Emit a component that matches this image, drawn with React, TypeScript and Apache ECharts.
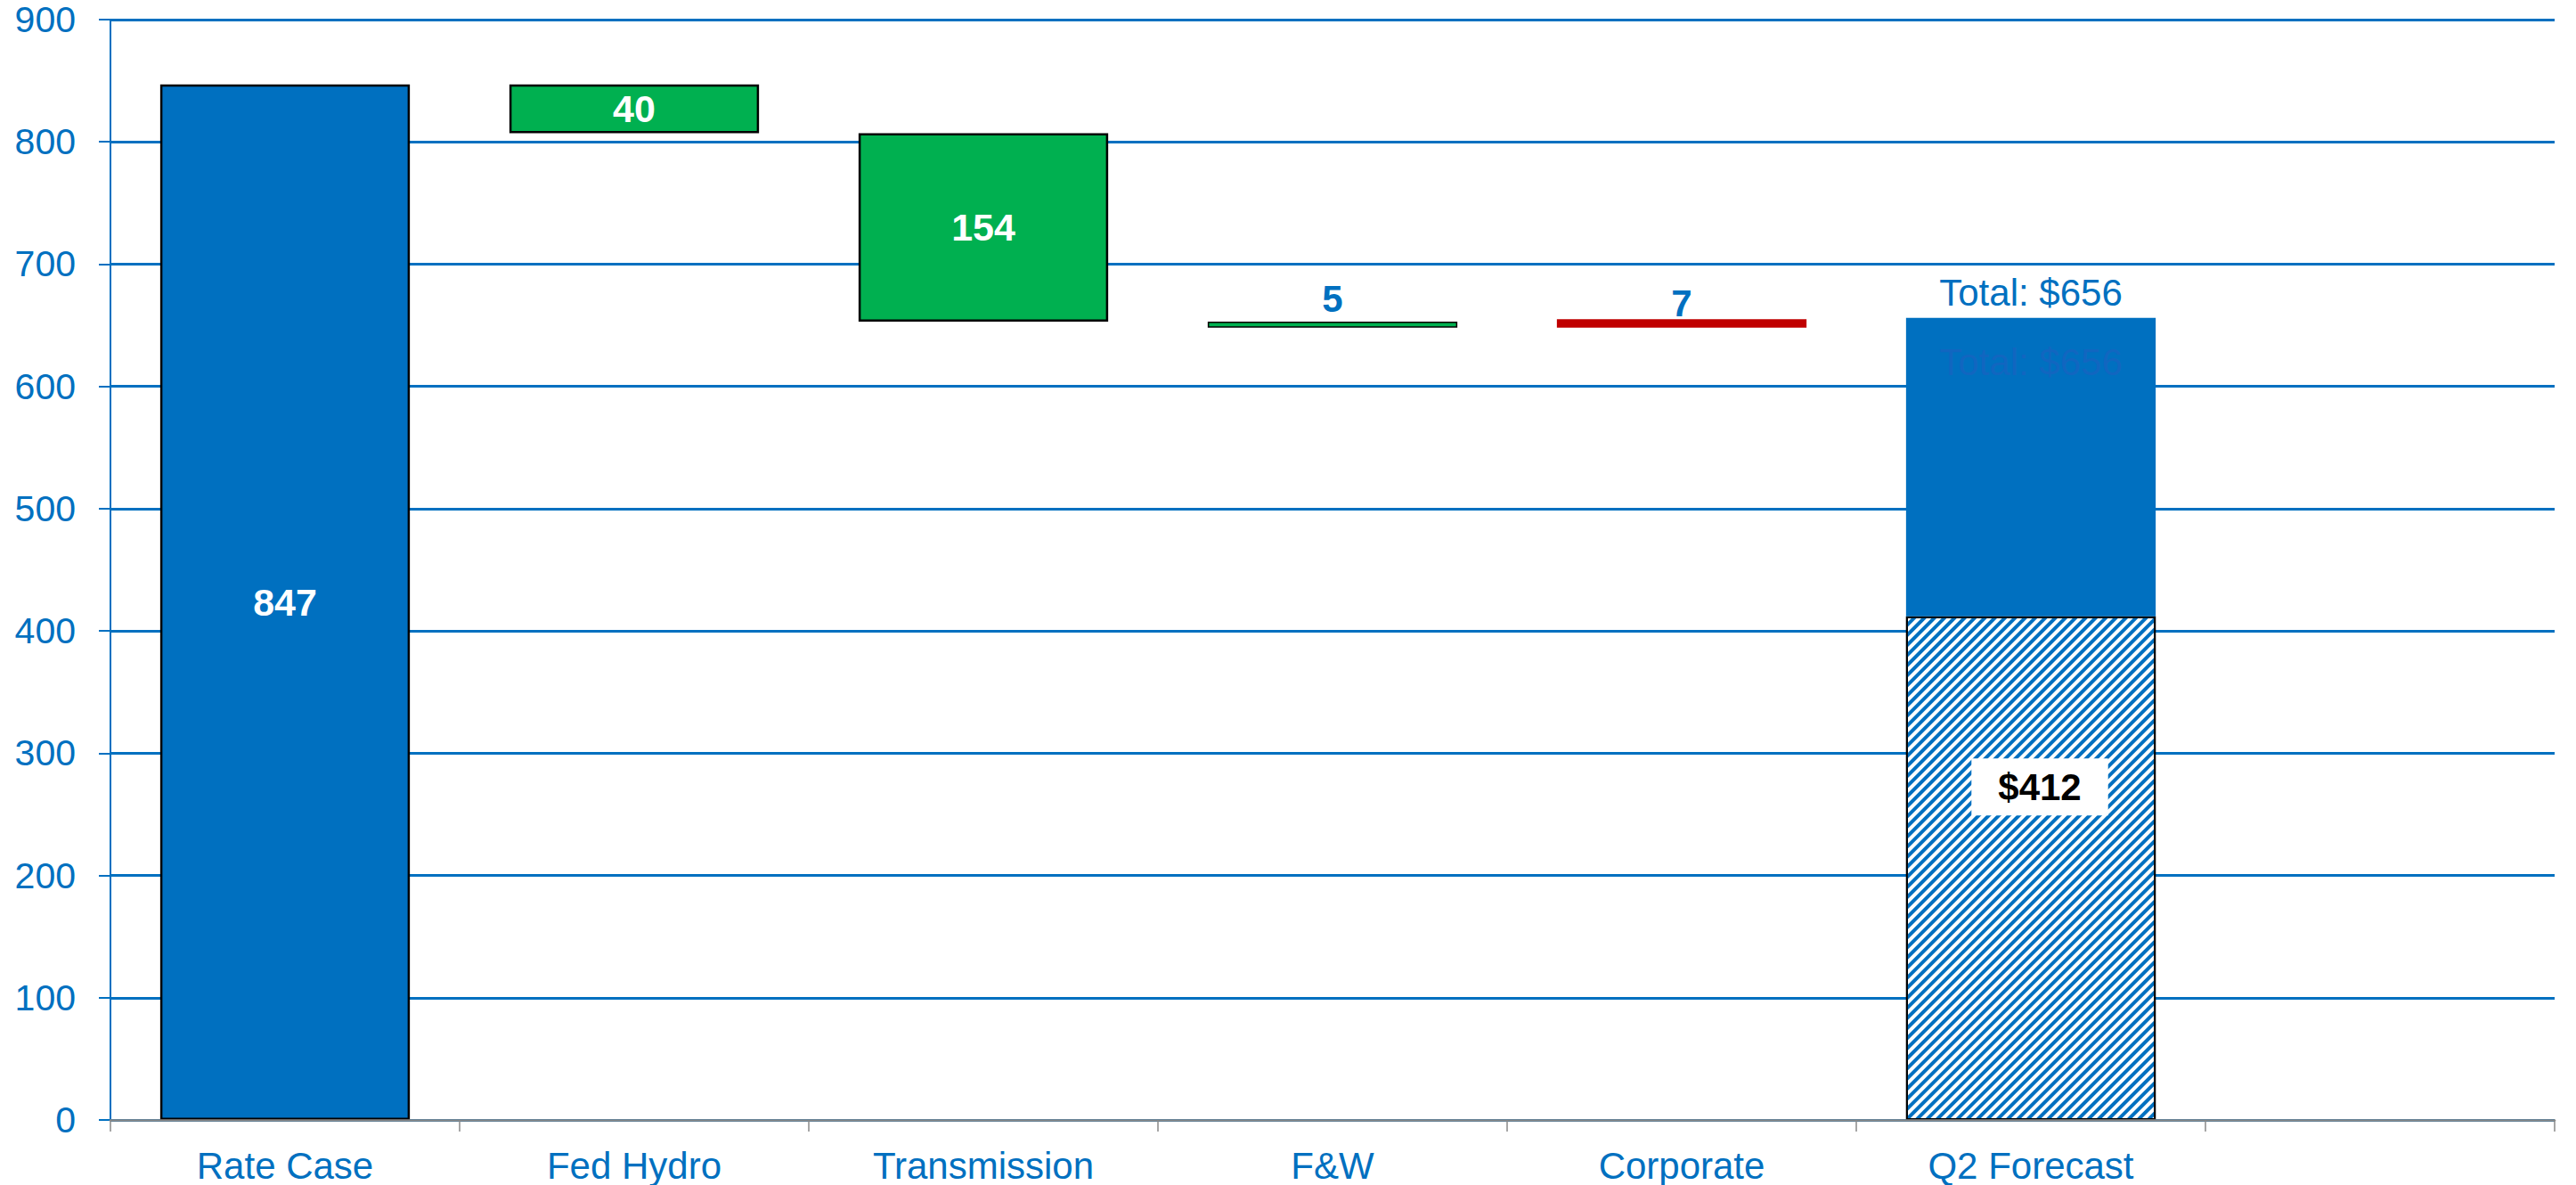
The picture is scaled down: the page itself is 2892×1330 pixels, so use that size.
import React, { useEffect, useRef } from "react";
import * as echarts from "echarts";

const categories = ["Rate Case", "Fed Hydro", "Transmission", "F&W", "Corporate", "Q2 Forecast", ""];
// invisible offsets that lift each floating bar
const baseValues: (number | string)[] = [0, 807, 653, 648, 648, "-", "-"];
// visible bar heights
const deltaValues: (number | string)[] = [847, 40, 154, 5, 7, 244, "-"];
const deltaLabels = ["847", "40", "154", "5", "7", "Total: $656", ""];
const barColors = ["#0070C0", "#00B050", "#00B050", "#00B050", "#C00000", "#0070C0", "#0070C0"];
const borderWidths = [2.5, 2.5, 2.5, 1.5, 0, 0, 0];
const labelInside = [true, true, true, false, false, false, false];
// hatched forecast portion
const hatchedValues: (number | string)[] = ["-", "-", "-", "-", "-", 412, "-"];
const hatchedLabel = "$412";
const totalValue = 656;
const totalText = "Total: $656";
const yTicks = { min: 0, max: 900, interval: 100 };

const FONT = "'Liberation Sans', Arial, Helvetica, sans-serif";
const BLUE = "#0070C0";

export default function App() {
  const ref = useRef<HTMLDivElement>(null);
  useEffect(() => {
    if (!ref.current) return;
    const chart = echarts.init(ref.current, undefined, { renderer: "svg" });
    const topDistance = [5, 5, 5, 4, -3, 7, 5];
    const option: any = {
      animation: false,
      backgroundColor: "#fff",
      textStyle: { fontFamily: FONT },
      grid: { left: 124, right: 24, top: 22, bottom: 73, containLabel: false },
      xAxis: {
        type: "category",
        data: categories,
        boundaryGap: true,
        axisLine: { show: true, lineStyle: { color: "#888", width: 2.5 } },
        axisTick: { show: true, length: 13, lineStyle: { color: "#888", width: 1.5 } },
        axisLabel: { color: BLUE, fontSize: 42, fontFamily: FONT, margin: 30, interval: 0 },
        splitLine: { show: false },
        z: 5,
      },
      yAxis: {
        type: "value",
        min: yTicks.min,
        max: yTicks.max,
        interval: yTicks.interval,
        axisLine: { show: true, lineStyle: { color: BLUE, width: 2 } },
        axisTick: { show: true, length: 13, lineStyle: { color: BLUE, width: 2 } },
        axisLabel: { color: BLUE, fontSize: 41, fontFamily: FONT, margin: 39 },
        splitLine: { show: true, lineStyle: { color: BLUE, width: 3 } },
      },
      series: [
        {
          type: "bar",
          stack: "w",
          barWidth: "71.5%",
          data: baseValues,
          itemStyle: { color: "rgba(0,0,0,0)", borderWidth: 0 },
          silent: true,
          label: { show: false },
        },
        {
          type: "bar",
          stack: "w",
          barWidth: "71.5%",
          data: hatchedValues.map((v) => ({
            value: v,
            label: {
              show: v !== "-",
              position: "inside",
              formatter: hatchedLabel,
              offset: [10, -91],
              color: "#000",
              fontWeight: "bold",
              fontSize: 42,
              fontFamily: FONT,
              backgroundColor: "#fff",
              padding: [12, 30, 10, 30],
            },
          })),
          itemStyle: {
            color: "#fff",
            borderColor: "#000",
            borderWidth: 2,
            decal: {
              symbol: "rect",
              symbolSize: 1,
              color: BLUE,
              backgroundColor: "#fff",
              dashArrayX: [1, 0],
              dashArrayY: [3.5, 4],
              rotation: -Math.PI / 4,
            },
          },
        },
        {
          type: "bar",
          stack: "w",
          barWidth: "71.5%",
          data: deltaValues.map((v, i) => ({
            value: v,
            itemStyle: {
              color: barColors[i],
              borderColor: "#000",
              borderWidth: borderWidths[i],
            },
            label: labelInside[i]
              ? {
                  show: true,
                  position: "inside",
                  formatter: deltaLabels[i],
                  color: "#fff",
                  fontWeight: "bold",
                  fontSize: 43,
                  fontFamily: FONT,
                }
              : {
                  show: deltaLabels[i] !== "",
                  position: "top",
                  distance: topDistance[i],
                  formatter: deltaLabels[i],
                  color: BLUE,
                  fontWeight: i === 5 ? "normal" : "bold",
                  fontSize: i === 5 ? 42 : 42,
                  fontFamily: FONT,
                },
          })),
        },
        {
          type: "scatter",
          data: [[categories[5], totalValue]],
          symbolSize: 1,
          itemStyle: { color: "rgba(0,0,0,0)" },
          silent: true,
          z: 10,
          label: {
            show: true,
            position: "bottom",
            distance: 28,
            formatter: totalText,
            color: "#1764C0",
            fontSize: 42,
            fontFamily: FONT,
          },
        },
      ],
    };
    chart.setOption(option);
    return () => chart.dispose();
  }, []);
  return (
    <div
      ref={ref}
      style={{ position: "absolute", left: 0, top: 0, width: 2892, height: 1330 }}
    />
  );
}
